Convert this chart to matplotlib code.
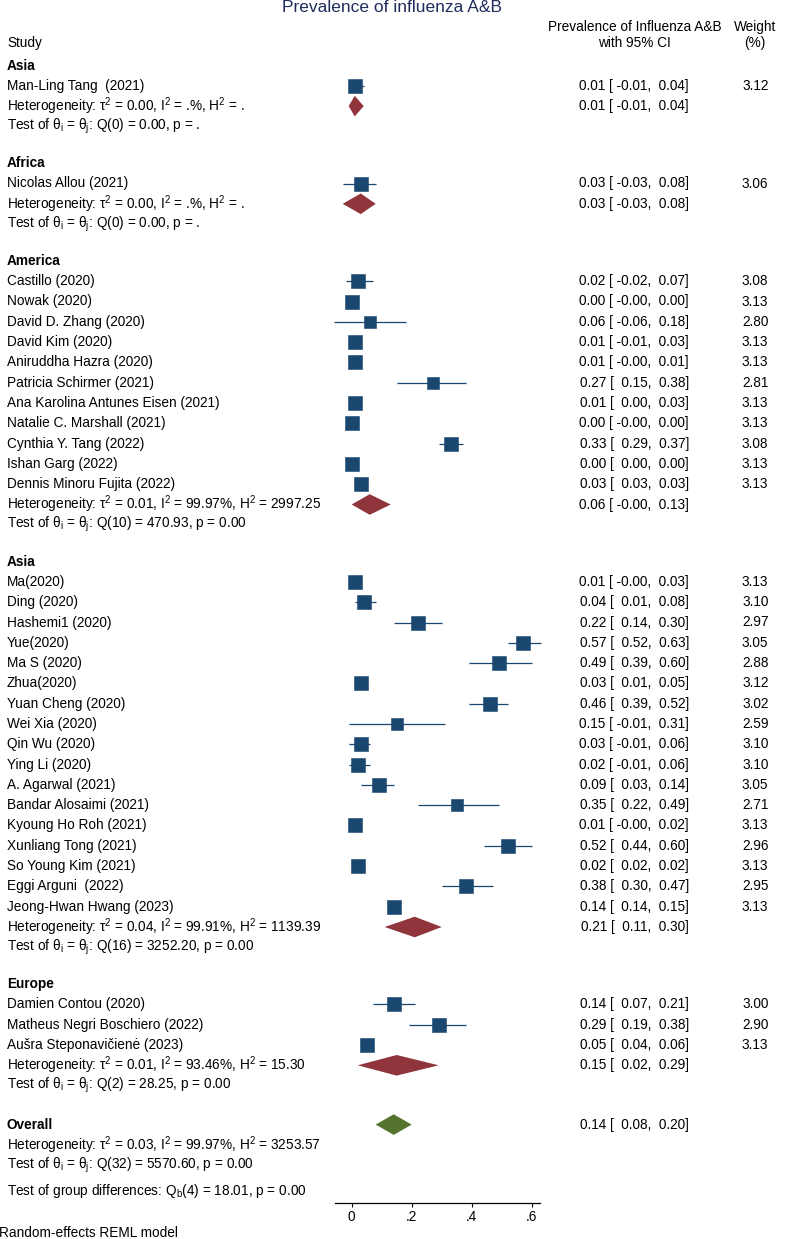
import matplotlib
matplotlib.use("Agg")
import matplotlib.pyplot as plt
import numpy as np

plt.rcParams['font.family'] = ['Liberation Sans', 'DejaVu Sans']
plt.rcParams['mathtext.fontset'] = 'custom'
plt.rcParams['mathtext.rm'] = 'Liberation Sans'
plt.rcParams['mathtext.it'] = 'Liberation Sans:italic'
plt.rcParams['mathtext.bf'] = 'Liberation Sans:bold'

# ---------------- data ----------------
group_labels = ["Asia", "Africa", "America", "Asia", "Europe"]

study_names = [
    "Man-Ling Tang  (2021)",
    "Nicolas Allou (2021)",
    "Castillo (2020)", "Nowak (2020)", "David D. Zhang (2020)", "David Kim (2020)",
    "Aniruddha Hazra (2020)", "Patricia Schirmer (2021)",
    "Ana Karolina Antunes Eisen (2021)", "Natalie C. Marshall (2021)",
    "Cynthia Y. Tang (2022)", "Ishan Garg (2022)", "Dennis Minoru Fujita (2022)",
    "Ma(2020)", "Ding (2020)", "Hashemi1 (2020)", "Yue(2020)", "Ma S (2020)",
    "Zhua(2020)", "Yuan Cheng (2020)", "Wei Xia (2020)", "Qin Wu (2020)",
    "Ying Li (2020)", "A. Agarwal (2021)", "Bandar Alosaimi (2021)",
    "Kyoung Ho Roh (2021)", "Xunliang Tong (2021)", "So Young Kim (2021)",
    "Eggi Arguni  (2022)", "Jeong-Hwan Hwang (2023)",
    "Damien Contou (2020)", "Matheus Negri Boschiero (2022)",
    "Aušra Steponavičienė (2023)",
]
study_group = [0, 1] + [2] * 11 + [3] * 17 + [4] * 3

est = [0.01,
       0.03,
       0.02, 0.00, 0.06, 0.01, 0.01, 0.27, 0.01, 0.00, 0.33, 0.00, 0.03,
       0.01, 0.04, 0.22, 0.57, 0.49, 0.03, 0.46, 0.15, 0.03, 0.02, 0.09,
       0.35, 0.01, 0.52, 0.02, 0.38, 0.14,
       0.14, 0.29, 0.05]
ci_low = [-0.01,
          -0.03,
          -0.02, -0.0, -0.06, -0.01, -0.0, 0.15, 0.00, -0.0, 0.29, 0.00, 0.03,
          -0.0, 0.01, 0.14, 0.52, 0.39, 0.01, 0.39, -0.01, -0.01, -0.01, 0.03,
          0.22, -0.0, 0.44, 0.02, 0.30, 0.14,
          0.07, 0.19, 0.04]
ci_high = [0.04,
           0.08,
           0.07, 0.00, 0.18, 0.03, 0.01, 0.38, 0.03, 0.00, 0.37, 0.00, 0.03,
           0.03, 0.08, 0.30, 0.63, 0.60, 0.05, 0.52, 0.31, 0.06, 0.06, 0.14,
           0.49, 0.02, 0.60, 0.02, 0.47, 0.15,
           0.21, 0.38, 0.06]
weights = [3.12,
           3.06,
           3.08, 3.13, 2.80, 3.13, 3.13, 2.81, 3.13, 3.13, 3.08, 3.13, 3.13,
           3.13, 3.10, 2.97, 3.05, 2.88, 3.12, 3.02, 2.59, 3.10, 3.10, 3.05,
           2.71, 3.13, 2.96, 3.13, 2.95, 3.13,
           3.00, 2.90, 3.13]

sub_est = [0.01, 0.03, 0.06, 0.21, 0.15]
sub_low = [-0.01, -0.03, -0.0, 0.11, 0.02]
sub_high = [0.04, 0.08, 0.13, 0.30, 0.29]
sub_tau2 = ["0.00", "0.00", "0.01", "0.04", "0.01"]
sub_I2 = [".", ".", "99.97", "99.91", "93.46"]
sub_H2 = [".", ".", "2997.25", "1139.39", "15.30"]
sub_Q = ["0.00", "0.00", "470.93", "3252.20", "28.25"]
sub_df = [0, 0, 10, 16, 2]
sub_p = [".", ".", "0.00", "0.00", "0.00"]

overall_est, overall_low, overall_high = 0.14, 0.08, 0.20
overall_tau2, overall_I2, overall_H2 = "0.03", "99.97", "3253.57"
overall_Q, overall_df, overall_p = "5570.60", 32, "0.00"
between_Q, between_df, between_p = "18.01", 4, "0.00"

axis_ticks = [0, 0.2, 0.4, 0.6]
axis_tick_labels = ["0", ".2", ".4", ".6"]

title = "Prevalence of influenza A&B"
col_header = ["Prevalence of Influenza A&B", "with 95% CI"]
weight_header = ["Weight", "(%)"]
footnote = "Random-effects REML model"

# ---------------- style / layout ----------------
W, H = 785, 1239
X0, PPU = 351.7, 300.0          # pixel of x=0, pixels per unit
FS = 9.8
NAVY = "#1a476f"
MAROON = "#90353b"
GREEN = "#55752f"
TITLE_C = "#1f2c5c"
STEP, GAP = 20.3, 36.8
DH = 10.3                       # diamond half height (px)
SQ = 13.6                       # square side (px) for weight 3.13


def xp(px):
    return (px - X0) / PPU


fig = plt.figure(figsize=(W / 100, H / 100), dpi=100)
ax = fig.add_axes([0, 0, 1, 1])
ax.set_xlim(xp(0), xp(W))
ax.set_ylim(H, 0)
ax.axis('off')

X_STUDY = xp(7)
X_EST_R = xp(689)
X_EST_C = xp(634.5)
X_W_R = xp(768.5)
X_W_C = xp(755)


def het_text(t, i, h):
    pct = "%"
    return (r"Heterogeneity: τ$^{\mathrm{2}}$ = " + t + r", I$^{\mathrm{2}}$ = " + i + pct
            + r", H$^{\mathrm{2}}$ = " + h)


def test_text(q, df, p):
    return (r"Test of θ$_{\mathrm{i}}$ = θ$_{\mathrm{j}}$: Q(" + str(df) + ") = " + q + ", p = " + p)


def est_text(e, l, h):
    return f"{e:.2f} [{l:6.2f}, {h:5.2f}]"


def diamond(e, l, h, y, color):
    ax.fill([l, e, h, e], [y, y - DH, y, y + DH], color=color, lw=0, zorder=3)


# title & headers
ax.text(xp(W / 2), 8, title, ha='center', va='center', fontsize=12.5, color=TITLE_C)
ax.text(X_STUDY, 43, "Study", ha='left', va='center', fontsize=FS)
ax.text(X_EST_C, 27, col_header[0], ha='center', va='center', fontsize=FS)
ax.text(X_EST_C, 43, col_header[1], ha='center', va='center', fontsize=FS)
ax.text(X_W_C, 27, weight_header[0], ha='center', va='center', fontsize=FS)
ax.text(X_W_C, 43, weight_header[1], ha='center', va='center', fontsize=FS)

y = 65.5
for g, label in enumerate(group_labels):
    if g > 0:
        y += GAP
    ax.text(X_STUDY, y, label, ha='left', va='center', fontsize=FS, fontweight='bold')
    for i in range(len(study_names)):
        if study_group[i] != g:
            continue
        y += STEP
        ax.text(X_STUDY, y, study_names[i], ha='left', va='center', fontsize=FS)
        ax.plot([ci_low[i], ci_high[i]], [y, y], color=NAVY, lw=0.9, zorder=2,
                solid_capstyle='butt')
        side = SQ * np.sqrt(weights[i] / 3.13) * 72 / 100
        ax.plot([est[i]], [y], marker='s', ms=side, color=NAVY, mec=NAVY,
                mew=0.4, zorder=3, linestyle='none')
        ax.text(X_EST_R, y, est_text(est[i], ci_low[i], ci_high[i]),
                ha='right', va='center', fontsize=FS)
        ax.text(X_W_R, y, f"{weights[i]:.2f}", ha='right', va='center', fontsize=FS)
    y += STEP
    ax.text(X_STUDY, y, het_text(sub_tau2[g], sub_I2[g], sub_H2[g]),
            ha='left', va='center', fontsize=FS)
    diamond(sub_est[g], sub_low[g], sub_high[g], y, MAROON)
    ax.text(X_EST_R, y, est_text(sub_est[g], sub_low[g], sub_high[g]),
            ha='right', va='center', fontsize=FS)
    y += STEP
    ax.text(X_STUDY, y, test_text(sub_Q[g], sub_df[g], sub_p[g]),
            ha='left', va='center', fontsize=FS)

# overall
y += 39
ax.text(X_STUDY, y, "Overall", ha='left', va='center', fontsize=FS, fontweight='bold')
diamond(overall_est, overall_low, overall_high, y, GREEN)
ax.text(X_EST_R, y, est_text(overall_est, overall_low, overall_high),
        ha='right', va='center', fontsize=FS)
y += STEP
ax.text(X_STUDY, y, het_text(overall_tau2, overall_I2, overall_H2),
        ha='left', va='center', fontsize=FS)
y += STEP
ax.text(X_STUDY, y, test_text(overall_Q, overall_df, overall_p),
        ha='left', va='center', fontsize=FS)
y += 26
ax.text(X_STUDY, y, r"Test of group differences: Q$_{\mathrm{b}}$(" + str(between_df)
        + ") = " + between_Q + ", p = " + between_p,
        ha='left', va='center', fontsize=FS)

ax.text(xp(-1), 1233, footnote, ha='left', va='center', fontsize=FS)

# x axis
AX_Y = 1202.7
axb = fig.add_axes([335 / W, 1 - AX_Y / H, 205 / W, 0.0001])
axb.set_xlim(xp(335), xp(540))
axb.patch.set_alpha(0)
for s in ['left', 'right', 'top']:
    axb.spines[s].set_visible(False)
axb.spines['bottom'].set_linewidth(0.9)
axb.set_yticks([])
axb.set_xticks(axis_ticks)
axb.set_xticklabels(axis_tick_labels)
axb.tick_params(axis='x', direction='out', length=3, width=0.8, pad=2, labelsize=FS)

fig.savefig("out.png", dpi=100)
